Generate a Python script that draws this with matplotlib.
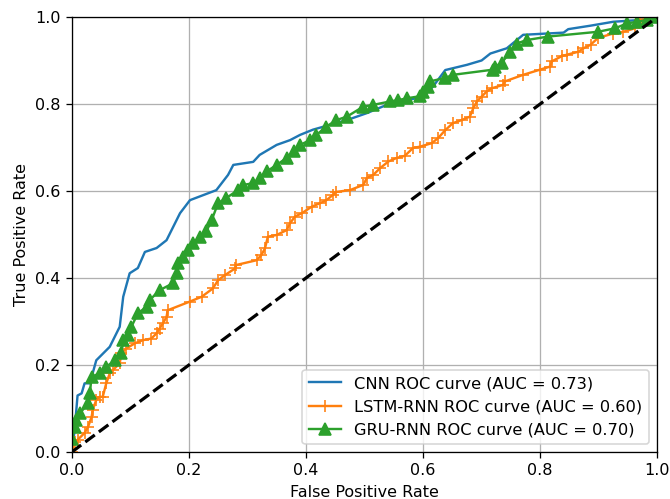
import numpy as np
import matplotlib
matplotlib.use('Agg')
import matplotlib.pyplot as plt

# ROC points
cnn_fpr = [0.0, 0.005, 0.01, 0.017, 0.022, 0.031, 0.042, 0.065, 0.082, 0.088, 0.099, 0.113,
           0.125, 0.145, 0.162, 0.185, 0.202, 0.247, 0.267, 0.276, 0.31, 0.321, 0.35, 0.373,
           0.39, 0.412, 0.441, 0.47, 0.504, 0.538, 0.6, 0.617, 0.638, 0.675, 0.7, 0.715,
           0.743, 0.771, 0.84, 0.848, 0.886, 0.925, 0.97, 1.0]
cnn_tpr = [0.0, 0.05, 0.13, 0.135, 0.158, 0.158, 0.211, 0.242, 0.288, 0.357, 0.411, 0.423,
           0.46, 0.469, 0.487, 0.549, 0.579, 0.602, 0.637, 0.66, 0.667, 0.683, 0.706, 0.717,
           0.729, 0.741, 0.752, 0.763, 0.779, 0.798, 0.817, 0.84, 0.878, 0.89, 0.9, 0.916,
           0.928, 0.959, 0.964, 0.972, 0.98, 0.989, 0.993, 1.0]

lstm_fpr = [0.0, 0.005, 0.01, 0.022, 0.028, 0.034, 0.036, 0.042, 0.048, 0.053, 0.059, 0.065,
            0.07, 0.082, 0.085, 0.093, 0.108, 0.121, 0.136, 0.145, 0.15, 0.156, 0.162, 0.164,
            0.202, 0.222, 0.241, 0.25, 0.262, 0.279, 0.281, 0.316, 0.324, 0.33, 0.335, 0.35,
            0.367, 0.373, 0.381, 0.393, 0.41, 0.424, 0.435, 0.446, 0.452, 0.475, 0.498, 0.504,
            0.515, 0.527, 0.541, 0.555, 0.569, 0.583, 0.595, 0.615, 0.626, 0.638, 0.651, 0.666,
            0.68, 0.686, 0.692, 0.7, 0.709, 0.717, 0.737, 0.74, 0.771, 0.8, 0.817, 0.82, 0.837,
            0.845, 0.865, 0.874, 0.886, 0.899, 0.925, 0.942, 0.962, 0.968, 0.97, 1.0]
lstm_tpr = [0.0, 0.024, 0.028, 0.044, 0.058, 0.081, 0.097, 0.12, 0.127, 0.127, 0.158, 0.181,
            0.188, 0.204, 0.227, 0.238, 0.25, 0.257, 0.261, 0.273, 0.284, 0.296, 0.311, 0.326,
            0.346, 0.357, 0.376, 0.395, 0.407, 0.422, 0.43, 0.441, 0.453, 0.468, 0.495, 0.499,
            0.51, 0.526, 0.541, 0.549, 0.564, 0.572, 0.579, 0.591, 0.598, 0.602, 0.614, 0.63,
            0.637, 0.653, 0.668, 0.676, 0.681, 0.699, 0.702, 0.71, 0.722, 0.74, 0.756, 0.763,
            0.771, 0.791, 0.806, 0.817, 0.829, 0.836, 0.844, 0.852, 0.867, 0.879, 0.886, 0.898,
            0.91, 0.913, 0.92, 0.928, 0.936, 0.952, 0.962, 0.966, 0.974, 0.985, 0.993, 1.0]

gru_fpr = [0.0, 0.005, 0.008, 0.014, 0.028, 0.031, 0.034, 0.048, 0.059, 0.074, 0.085, 0.088,
           0.096, 0.102, 0.113, 0.128, 0.133, 0.15, 0.173, 0.179, 0.181, 0.19, 0.198, 0.207,
           0.219, 0.23, 0.239, 0.25, 0.264, 0.284, 0.293, 0.31, 0.321, 0.333, 0.35, 0.367,
           0.379, 0.39, 0.407, 0.418, 0.435, 0.452, 0.47, 0.498, 0.515, 0.544, 0.558, 0.572,
           0.595, 0.6, 0.609, 0.612, 0.638, 0.651, 0.72, 0.723, 0.734, 0.749, 0.76, 0.777,
           0.814, 0.899, 0.928, 0.948, 0.965, 0.982, 1.0]
gru_tpr = [0.03, 0.058, 0.073, 0.089, 0.112, 0.135, 0.173, 0.181, 0.196, 0.211, 0.227, 0.257,
           0.269, 0.288, 0.319, 0.334, 0.349, 0.372, 0.388, 0.411, 0.434, 0.449, 0.464, 0.48,
           0.495, 0.507, 0.533, 0.572, 0.584, 0.602, 0.614, 0.618, 0.63, 0.645, 0.66, 0.676,
           0.691, 0.706, 0.717, 0.729, 0.748, 0.763, 0.771, 0.794, 0.798, 0.806, 0.809, 0.813,
           0.818, 0.828, 0.84, 0.852, 0.86, 0.867, 0.879, 0.886, 0.894, 0.92, 0.939, 0.947,
           0.955, 0.966, 0.974, 0.985, 0.989, 0.993, 1.0]

# the reference looks like a default figure scaled up ~1.15, so draw at dpi 115
dpi = 115
fig = plt.figure(figsize=(670 / dpi, 499 / dpi), dpi=dpi)
ax = fig.add_axes([0.107, 0.094, 0.874, 0.872])

ax.plot(cnn_fpr, cnn_tpr, color='tab:blue', label='CNN ROC curve (AUC = 0.73)')
ax.plot(lstm_fpr, lstm_tpr, color='tab:orange', marker='+', markersize=8,
        label='LSTM-RNN ROC curve (AUC = 0.60)')
ax.plot(gru_fpr, gru_tpr, color='tab:green', marker='^', markersize=7,
        label='GRU-RNN ROC curve (AUC = 0.70)')
ax.plot([0, 1], [0, 1], 'k--', lw=2)

ax.set_xlim(0.0, 1.0)
ax.set_ylim(0.0, 1.0)
ax.set_xlabel('False Positive Rate')
ax.set_ylabel('True Positive Rate')
ax.grid(True)
ax.legend(loc='lower right', fontsize=10.2)

fig.savefig('out.png', dpi=dpi)
